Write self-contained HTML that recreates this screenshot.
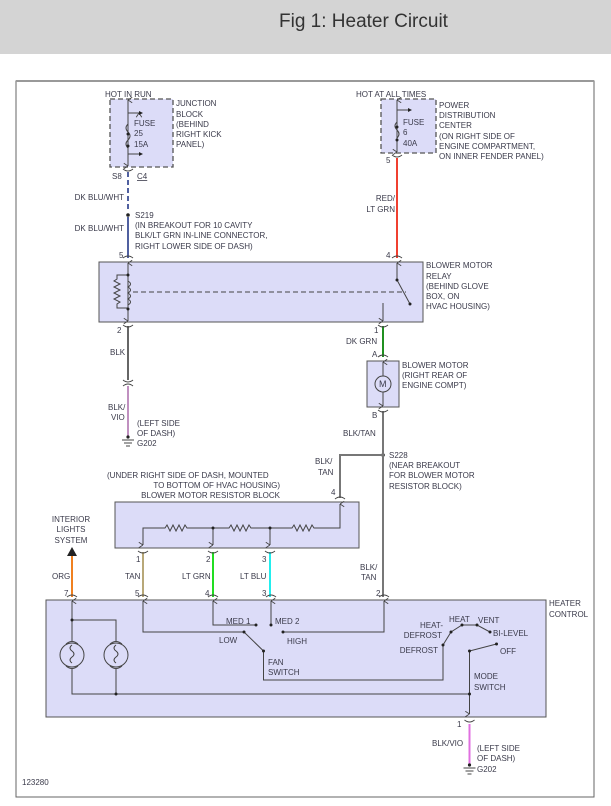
<!DOCTYPE html>
<html><head><meta charset="utf-8"><style>
html,body{margin:0;padding:0;background:#fff;width:611px;height:806px;overflow:hidden}
svg{display:block}
text{font-family:"Liberation Sans",sans-serif;font-size:8px;fill:#3a3a4a}
</style></head><body>
<svg width="611" height="806" viewBox="0 0 611 806" xmlns="http://www.w3.org/2000/svg">
<defs>
<marker id="ar" viewBox="0 0 10 10" refX="5" refY="0" markerWidth="7" markerHeight="7" orient="auto-start-reverse"><path d="M1,6 L5,0 L9,6" fill="none" stroke="#444" stroke-width="1.3"/></marker>
</defs>
<rect x="0" y="0" width="611" height="54" fill="#d4d4d4"/>
<text x="279" y="27" style="font-size:19px;fill:#333">Fig 1: Heater Circuit</text>
<rect x="16" y="81" width="578" height="716" fill="#fff" stroke="#666" stroke-width="1"/>
<line x1="16" y1="81" x2="594" y2="81" stroke="#999" stroke-width="2"/>

<g stroke="#444" stroke-width="1" fill="none">
<!-- junction block -->
<rect x="110" y="99" width="63" height="68" fill="#dcdcf8" stroke="#555" stroke-dasharray="5,3" stroke-width="1.3"/>
<line x1="128" y1="100" x2="128" y2="166" marker-start="url(#ar)" marker-end="url(#ar)"/>
<line x1="128" y1="113" x2="139" y2="113" marker-end="url(#ar)" transform=""/>
<line x1="128" y1="154" x2="139" y2="154"/>
<path d="M128,124 q-4,4 0,8 q4,4 0,8 q-4,4 0,8"/>
<!-- power dist -->
<rect x="381" y="99" width="55" height="54" fill="#dcdcf8" stroke="#555" stroke-dasharray="5,3" stroke-width="1.3"/>
<line x1="397" y1="100" x2="397" y2="152" marker-start="url(#ar)" marker-end="url(#ar)"/>
<line x1="397" y1="110" x2="408" y2="110"/>
<path d="M397,122 q-4,4 0,8 q4,4 0,8"/>
<!-- relay -->
<rect x="99" y="262" width="324" height="60" fill="#dcdcf8" stroke="#555"/>
<line x1="128" y1="263" x2="128" y2="321" marker-start="url(#ar)" marker-end="url(#ar)"/>
<path d="M128,275 h-11 v4 l-3,2 l6,3 l-6,3 l6,3 l-6,3 l6,3 l-6,3 l6,3 l-3,2 v4 h11"/>
<path d="M128,281 q5,3 0,6 q5,3 0,6 q5,3 0,6 q5,3 0,6" />
<line x1="133" y1="292" x2="406" y2="292" stroke-dasharray="5,3"/>
<line x1="397" y1="263" x2="397" y2="280" marker-start="url(#ar)"/>
<line x1="397" y1="280" x2="410" y2="304"/>
<line x1="383" y1="303" x2="383" y2="321" marker-end="url(#ar)"/>
<!-- motor -->
<rect x="367" y="361" width="32" height="46" fill="#dcdcf8" stroke="#555"/>
<line x1="383" y1="362" x2="383" y2="406" marker-start="url(#ar)" marker-end="url(#ar)"/>
<circle cx="383" cy="384" r="8" fill="#dcdcf8"/>
<!-- resistor block -->
<rect x="115" y="502" width="244" height="46" fill="#dcdcf8" stroke="#555"/>
<path d="M143,545 V528 H165 l2,-3 l3,6 l3,-6 l3,6 l3,-6 l3,6 l3,-6 l2,3 H229 l2,-3 l3,6 l3,-6 l3,6 l3,-6 l3,6 l3,-6 l2,3 H292 l2,-3 l3,6 l3,-6 l3,6 l3,-6 l3,6 l3,-6 l2,3 H340 V504" marker-start="url(#ar)" marker-end="url(#ar)"/>
<line x1="213" y1="528" x2="213" y2="545" marker-end="url(#ar)"/>
<line x1="270" y1="528" x2="270" y2="545" marker-end="url(#ar)"/>
<!-- heater control -->
<rect x="46" y="600" width="500" height="117" fill="#dcdcf8" stroke="#555"/>
<line x1="72" y1="601" x2="72" y2="641" marker-start="url(#ar)"/>
<path d="M72,620 H116 V641"/>
<circle cx="72" cy="655" r="12"/><circle cx="116" cy="655" r="12"/>
<path d="M66,644 q6,-5 12,0 M66,666 q6,5 12,0 M110,644 q6,-5 12,0 M110,666 q6,5 12,0"/>
<path d="M72,645 q-4,3 0,6 q4,3 0,6 q-4,3 0,6 M116,645 q-4,3 0,6 q4,3 0,6 q-4,3 0,6"/>
<path d="M72,669 V694 H469.5 M116,669 V694"/>
<path d="M143,601 V632 H244" marker-start="url(#ar)"/>
<path d="M244,632 L263.5,651 V680 H443 V645 L451,632 L462,625 H477 L490,632"/>
<path d="M213,601 V625 H256" marker-start="url(#ar)"/>
<line x1="271" y1="601" x2="271" y2="625" marker-start="url(#ar)"/>
<path d="M283,632 H384 V601" marker-end="url(#ar)"/>
<path d="M469.5,714 V651 L496.5,644" marker-start="url(#ar)"/>
</g>
<g fill="#222">
<circle cx="128" cy="134" r="1.5"/><circle cx="128" cy="146" r="1.5"/>
<circle cx="397" cy="127" r="1.5"/><circle cx="397" cy="140" r="1.5"/>
<circle cx="128" cy="275" r="1.5"/><circle cx="128" cy="309" r="1.5"/><circle cx="397" cy="280" r="1.5"/><circle cx="410" cy="304" r="1.5"/>
<circle cx="128" cy="215" r="1.8"/><circle cx="383" cy="455" r="1.8"/>
<circle cx="213" cy="528" r="1.5"/><circle cx="270" cy="528" r="1.5"/>
<circle cx="72" cy="620" r="1.5"/><circle cx="116" cy="694" r="1.5"/><circle cx="469.5" cy="694" r="1.5"/>
<circle cx="244" cy="632" r="1.5"/><circle cx="263.5" cy="651" r="1.5"/><circle cx="256" cy="625" r="1.5"/><circle cx="271" cy="625" r="1.5"/><circle cx="283" cy="632" r="1.5"/>
<circle cx="443" cy="645" r="1.5"/><circle cx="451" cy="632" r="1.5"/><circle cx="462" cy="625" r="1.5"/><circle cx="477" cy="625" r="1.5"/><circle cx="490" cy="632" r="1.5"/><circle cx="496.5" cy="644" r="1.5"/><circle cx="469.5" cy="651" r="1.5"/>
<path d="M139,111 l4,2 l-4,2z M139,152 l4,2 l-4,2z M408,108 l4,2 l-4,2z"/>
<path d="M67,556 l5,-9 l5,9z"/>
</g>
<!-- wires -->
<g fill="none" stroke-width="2">
<line x1="128" y1="172" x2="128" y2="210" stroke="#5060a0" stroke-dasharray="5,3"/>
<line x1="128" y1="217" x2="128" y2="258" stroke="#5060a0"/>
<line x1="397" y1="158" x2="397" y2="258" stroke="#f04030"/>
<line x1="128" y1="326" x2="128" y2="380" stroke="#666"/>
<line x1="128" y1="386" x2="128" y2="436" stroke="#c090c0"/>
<line x1="383" y1="326" x2="383" y2="357" stroke="#209020"/>
<line x1="383" y1="411" x2="383" y2="597" stroke="#777"/>
<path d="M383,455 H340 V498" stroke="#777"/>
<line x1="143" y1="552" x2="143" y2="597" stroke="#b8a878"/>
<line x1="213" y1="552" x2="213" y2="597" stroke="#22dd22"/>
<line x1="270" y1="552" x2="270" y2="597" stroke="#22eeee"/>
<line x1="72" y1="556" x2="72" y2="597" stroke="#f08020"/>
<line x1="469.5" y1="724" x2="469.5" y2="766" stroke="#e070e0"/>
</g>
<!-- connector arcs -->
<g fill="none" stroke="#444" stroke-width="1">
<path d="M123,169 q5,4 10,0 M392,155 q5,4 10,0 M123,258 q5,-4 10,0 M392,258 q5,-4 10,0 M123,325 q5,4 10,0 M378,325 q5,4 10,0 M123,380 q5,4 10,0 M123,386 q5,-4 10,0 M378,357 q5,-4 10,0 M378,410 q5,4 10,0 M335,499 q5,-4 10,0 M138,551 q5,4 10,0 M208,551 q5,4 10,0 M265,551 q5,4 10,0 M67,597 q5,-4 10,0 M138,597 q5,-4 10,0 M208,597 q5,-4 10,0 M266,597 q5,-4 10,0 M379,597 q5,-4 10,0 M464.5,720 q5,4 10,0"/>
<path d="M122,440 h12 M124,443 h8 M126,446 h4 M463.5,768 h12 M465.5,771 h8 M467.5,774 h4"/>
</g>
<circle cx="128" cy="437" r="1.6" fill="#222"/><circle cx="469.5" cy="765" r="1.6" fill="#222"/>
<!-- labels -->
<text x="105" y="97">HOT IN RUN</text>
<text x="134" y="126">FUSE</text><text x="134" y="136">25</text><text x="134" y="147">15A</text>
<text x="176" y="106">JUNCTION</text><text x="176" y="117">BLOCK</text><text x="176" y="127">(BEHIND</text><text x="176" y="137">RIGHT KICK</text><text x="176" y="147">PANEL)</text>
<text x="112" y="179">S8</text><text x="137" y="179" text-decoration="underline">C4</text>
<text x="124" y="200" text-anchor="end">DK BLU/WHT</text>
<text x="124" y="231" text-anchor="end">DK BLU/WHT</text>
<text x="135" y="218">S219</text><text x="135" y="228">(IN BREAKOUT FOR 10 CAVITY</text><text x="135" y="238">BLK/LT GRN IN-LINE CONNECTOR,</text><text x="135" y="249">RIGHT LOWER SIDE OF DASH)</text>
<text x="119" y="258">5</text><text x="386" y="258">4</text>
<text x="356" y="97">HOT AT ALL TIMES</text>
<text x="403" y="125">FUSE</text><text x="403" y="135">6</text><text x="403" y="146">40A</text>
<text x="439" y="108">POWER</text><text x="439" y="118">DISTRIBUTION</text><text x="439" y="128">CENTER</text><text x="439" y="139">(ON RIGHT SIDE OF</text><text x="439" y="149">ENGINE COMPARTMENT,</text><text x="439" y="159">ON INNER FENDER PANEL)</text>
<text x="386" y="163">5</text>
<text x="395" y="201" text-anchor="end">RED/</text><text x="395" y="212" text-anchor="end">LT GRN</text>
<text x="426" y="268">BLOWER MOTOR</text><text x="426" y="279">RELAY</text><text x="426" y="289">(BEHIND GLOVE</text><text x="426" y="299">BOX, ON</text><text x="426" y="309">HVAC HOUSING)</text>
<text x="117" y="333">2</text><text x="110" y="355">BLK</text>
<text x="108" y="410">BLK/</text><text x="111" y="420">VIO</text>
<text x="137" y="426">(LEFT SIDE</text><text x="137" y="436">OF DASH)</text><text x="137" y="446">G202</text>
<text x="374" y="333">1</text><text x="346" y="344">DK GRN</text><text x="372" y="357">A</text>
<text x="402" y="368">BLOWER MOTOR</text><text x="402" y="378">(RIGHT REAR OF</text><text x="402" y="388">ENGINE COMPT)</text>
<text x="379" y="387" style="font-size:9px">M</text>
<text x="372" y="418">B</text><text x="343" y="436">BLK/TAN</text>
<text x="389" y="458">S228</text><text x="389" y="468">(NEAR BREAKOUT</text><text x="389" y="478">FOR BLOWER MOTOR</text><text x="389" y="489">RESISTOR BLOCK)</text>
<text x="315" y="464">BLK/</text><text x="318" y="475">TAN</text><text x="331" y="495">4</text>
<text x="107" y="478">(UNDER RIGHT SIDE OF DASH, MOUNTED</text>
<text x="280" y="488" text-anchor="end">TO BOTTOM OF HVAC HOUSING)</text>
<text x="280" y="498" text-anchor="end">BLOWER MOTOR RESISTOR BLOCK</text>
<text x="71" y="522" text-anchor="middle">INTERIOR</text><text x="71" y="532" text-anchor="middle">LIGHTS</text><text x="71" y="543" text-anchor="middle">SYSTEM</text>
<text x="136" y="562">1</text><text x="206" y="562">2</text><text x="262" y="562">3</text>
<text x="52" y="579">ORG</text><text x="125" y="579">TAN</text><text x="182" y="579">LT GRN</text><text x="240" y="579">LT BLU</text>
<text x="360" y="570">BLK/</text><text x="361" y="580">TAN</text>
<text x="64" y="596">7</text><text x="135" y="596">5</text><text x="205" y="596">4</text><text x="262" y="596">3</text><text x="376" y="596">2</text>
<text x="549" y="606">HEATER</text><text x="549" y="617">CONTROL</text>
<text x="226" y="624">MED 1</text><text x="275" y="624">MED 2</text>
<text x="219" y="643">LOW</text><text x="287" y="644">HIGH</text>
<text x="268" y="665">FAN</text><text x="268" y="675">SWITCH</text>
<text x="443" y="628" text-anchor="end">HEAT-</text><text x="442" y="638" text-anchor="end">DEFROST</text>
<text x="438" y="653" text-anchor="end">DEFROST</text>
<text x="449" y="622">HEAT</text><text x="478" y="623">VENT</text>
<text x="493" y="636">BI-LEVEL</text><text x="500" y="654">OFF</text>
<text x="474" y="679">MODE</text><text x="474" y="690">SWITCH</text>
<text x="457" y="727">1</text>
<text x="432" y="746">BLK/VIO</text>
<text x="477" y="751">(LEFT SIDE</text><text x="477" y="761">OF DASH)</text><text x="477" y="772">G202</text>
<text x="22" y="785">123280</text>
</svg>
</body></html>
